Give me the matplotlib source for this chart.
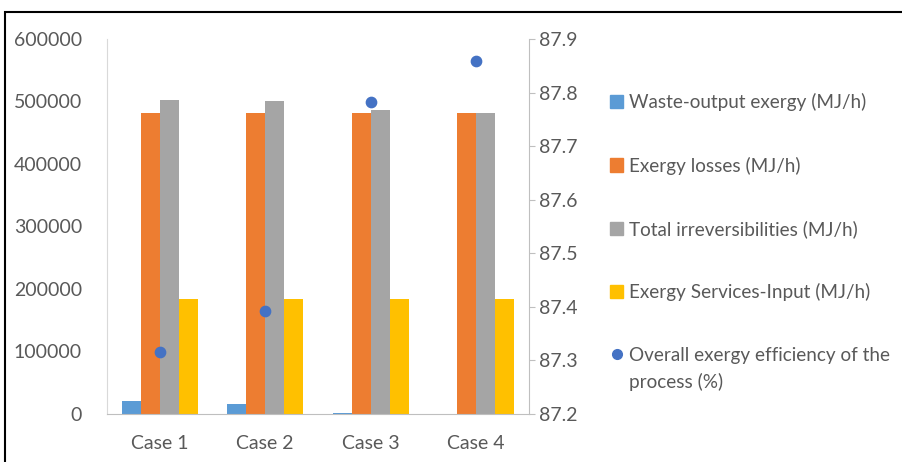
import matplotlib.pyplot as plt
import numpy as np
from matplotlib.patches import Rectangle
from matplotlib.lines import Line2D

cases = ['Case 1', 'Case 2', 'Case 3', 'Case 4']
waste_output = [20000, 16000, 2000, 0]
exergy_losses = [482000, 482000, 482000, 482000]
total_irrev = [503000, 501000, 486000, 482000]
services_input = [184000, 184000, 184000, 184000]
efficiency = [87.316, 87.392, 87.782, 87.859]

labels = ['Waste-output exergy (MJ/h)', 'Exergy losses (MJ/h)',
          'Total irreversibilities (MJ/h)', 'Exergy Services-Input (MJ/h)',
          'Overall exergy efficiency of the']
label_cont = 'process (%)'
colors = ['#5B9BD5', '#ED7D31', '#A5A5A5', '#FFC000']

plt.rcParams['font.family'] = ['Lato', 'DejaVu Sans']
txt = '#595959'

fig = plt.figure(figsize=(9.03, 4.62), dpi=100)
ax = fig.add_axes([0.1185, 0.1039, 0.4673, 0.8117])

x = np.arange(len(cases))
w = 0.18
series = [waste_output, exergy_losses, total_irrev, services_input]
for i, s in enumerate(series):
    ax.bar(x + (i - 1.5) * w, s, w, color=colors[i], label=labels[i])

ax.set_xlim(-0.5, 3.5)
ax.set_ylim(0, 600000)
ax.set_yticks(np.arange(0, 600001, 100000))
ax.set_xticks(x)
ax.set_xticklabels(cases)
for sp in ['top', 'right']:
    ax.spines[sp].set_visible(False)
ax.spines['left'].set_color('#D9D9D9')
ax.spines['bottom'].set_color('#BFBFBF')
ax.tick_params(axis='y', length=0, labelsize=14, colors=txt, pad=18)
ax.tick_params(axis='x', length=0, labelsize=14, colors=txt, pad=15)

ax2 = ax.twinx()
ax2.set_ylim(87.2, 87.9)
ax2.set_yticks(np.round(np.arange(87.2, 87.91, 0.1), 1))
ax2.set_yticklabels([f'{v:.1f}' for v in np.arange(87.2, 87.91, 0.1)])
for sp in ['top', 'left', 'bottom']:
    ax2.spines[sp].set_visible(False)
ax2.spines['right'].set_color('#BFBFBF')
ax2.tick_params(axis='y', length=4, color='#BFBFBF', labelsize=14, colors=txt, pad=3)
ax2.scatter(x, efficiency, s=55, color='#4472C4', zorder=5)

legend_handles = [Rectangle((0, 0), 1, 1, color=c) for c in colors]
legend_handles.append(Line2D([], [], marker='o', linestyle='', color='#4472C4', markersize=7))
leg = fig.legend(legend_handles, labels, loc='upper left', bbox_to_anchor=(0.657, 0.835),
                 frameon=False, fontsize=13.6, labelspacing=2.4, handlelength=0.7,
                 handleheight=0.7, handletextpad=0.3)
for t in leg.get_texts():
    t.set_color(txt)

# second line of the last legend entry, placed under its first line
fig.canvas.draw()
bb = leg.get_texts()[-1].get_window_extent()
fig.text(bb.x0 / fig.bbox.width, (bb.y0 - 27) / fig.bbox.height, label_cont,
         fontsize=13.6, color=txt, ha='left', va='bottom')

fig.patches.append(Rectangle((5 / 903, -0.02), 1.0, 1 - 12 / 462 + 0.02,
                             transform=fig.transFigure, fill=False,
                             edgecolor='black', linewidth=1.5))

fig.savefig('out.png', dpi=100)
